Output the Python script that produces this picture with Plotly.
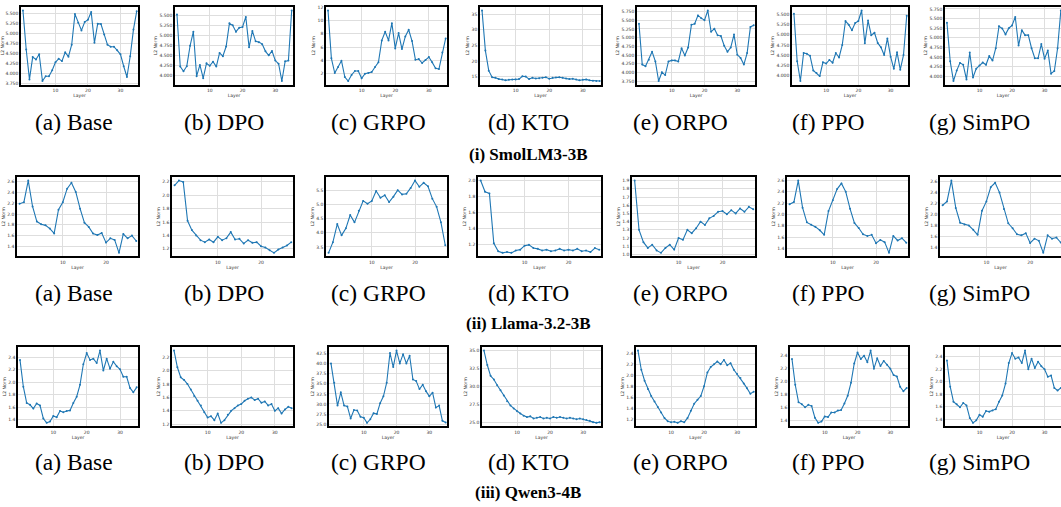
import plotly.graph_objects as go

W, H = 1061, 507

methods = ["(a) Base", "(b) DPO", "(c) GRPO", "(d) KTO", "(e) ORPO", "(f) PPO", "(g) SimPO"]
models = ["(i) SmolLM3-3B", "(ii) Llama-3.2-3B", "(iii) Qwen3-4B"]

# ---- SmolLM3-3B (36 layers) ----
smol_base = [5.58, 4.60, 3.85, 4.41, 4.35, 4.48, 3.81, 3.93, 3.93, 4.08, 4.28, 4.37, 4.31, 4.53, 4.42, 4.72,
             5.49, 5.27, 5.08, 5.29, 5.35, 5.54, 4.77, 5.25, 5.24, 4.98, 4.72, 4.67, 4.67, 4.58, 4.48, 4.18,
             3.91, 4.43, 5.10, 5.56]
smol_dpo = [5.52, 4.22, 4.10, 4.23, 4.74, 5.09, 3.98, 4.26, 3.93, 4.30, 4.24, 4.34, 4.22, 4.56, 4.48, 4.72,
            5.30, 5.25, 5.09, 5.19, 5.21, 5.46, 4.70, 5.11, 4.85, 4.83, 4.78, 4.60, 4.50, 4.61, 4.37, 4.29,
            3.86, 4.35, 4.37, 5.62]
smol_grpo = [11.5, 4.3, 2.1, 3.0, 3.95, 1.5, 0.9, 1.8, 2.4, 2.4, 1.3, 2.0, 2.1, 2.25, 3.0, 3.7,
             7.0, 8.3, 7.0, 9.6, 5.8, 8.1, 5.7, 7.6, 8.6, 6.9, 4.1, 4.2, 3.6, 4.05, 4.5, 3.7,
             2.8, 2.7, 5.2, 7.3]
smol_kto = [36.2, 23.4, 17.0, 14.9, 14.7, 14.3, 14.2, 13.9, 14.1, 14.2, 14.2, 14.3, 15.2, 15.1, 14.3, 14.7,
            14.5, 14.6, 14.7, 14.9, 14.4, 14.7, 14.8, 14.9, 14.7, 14.5, 14.3, 14.4, 14.2, 13.9, 14.1, 14.2,
            13.9, 13.8, 13.7, 13.7]
smol_orpo = [5.40, 4.23, 4.18, 4.37, 4.60, 4.32, 3.76, 4.01, 3.93, 4.32, 4.35, 4.35, 4.32, 4.70, 4.49, 4.72,
             5.37, 5.40, 5.64, 5.56, 5.50, 5.78, 5.17, 5.26, 5.07, 5.05, 4.77, 4.60, 4.72, 5.09, 4.51, 4.42,
             4.23, 4.56, 5.31, 5.36]
smol_ppo = [5.52, 4.35, 3.86, 4.55, 4.53, 4.48, 4.12, 4.06, 3.98, 4.32, 4.29, 4.38, 4.31, 4.55, 4.44, 4.75,
            5.34, 5.25, 5.11, 5.29, 5.34, 5.60, 4.79, 5.35, 4.99, 5.05, 4.80, 4.69, 4.50, 4.91, 4.46, 4.16,
            4.57, 4.14, 4.50, 5.47]
smol_simpo = [5.39, 4.39, 3.88, 4.15, 4.35, 4.30, 3.92, 4.62, 3.97, 4.20, 4.28, 4.36, 4.30, 4.53, 4.41, 4.73,
              5.30, 5.24, 5.09, 5.25, 5.32, 5.54, 4.80, 5.20, 5.07, 5.07, 4.73, 4.47, 4.47, 4.84, 4.46, 4.67,
              4.07, 4.14, 4.73, 5.71]

# ---- Llama-3.2-3B (28 layers) ----
llama_base = [2.19, 2.22, 2.62, 2.14, 1.86, 1.81, 1.79, 1.73, 1.64, 2.08, 2.22, 2.47, 2.58, 2.41, 2.10, 1.84,
              1.76, 1.64, 1.61, 1.65, 1.47, 1.55, 1.52, 1.28, 1.63, 1.55, 1.60, 1.50]
llama_dpo = [2.15, 2.22, 2.20, 1.62, 1.48, 1.40, 1.33, 1.30, 1.34, 1.30, 1.38, 1.33, 1.36, 1.45, 1.34, 1.35,
             1.28, 1.33, 1.29, 1.30, 1.24, 1.22, 1.18, 1.14, 1.19, 1.22, 1.25, 1.30]
llama_grpo = [3.29, 3.67, 4.31, 3.91, 4.16, 4.63, 4.37, 4.78, 5.13, 5.03, 5.13, 5.48, 5.24, 5.33, 5.09, 5.28,
              5.51, 5.36, 5.38, 5.59, 5.85, 5.63, 5.77, 5.65, 5.21, 4.92, 4.37, 3.56]
llama_kto = [2.00, 1.86, 1.84, 1.22, 1.12, 1.10, 1.11, 1.10, 1.13, 1.14, 1.19, 1.20, 1.16, 1.15, 1.13, 1.14,
             1.12, 1.13, 1.15, 1.13, 1.14, 1.13, 1.15, 1.12, 1.13, 1.11, 1.16, 1.14]
llama_orpo = [1.90, 1.30, 1.15, 1.08, 1.12, 1.05, 1.02, 1.08, 1.12, 1.06, 1.20, 1.18, 1.30, 1.26, 1.32, 1.40,
              1.36, 1.44, 1.47, 1.52, 1.53, 1.49, 1.54, 1.50, 1.56, 1.52, 1.58, 1.55]
llama_ppo = [2.18, 2.22, 2.60, 2.12, 1.86, 1.82, 1.78, 1.72, 1.64, 2.06, 2.25, 2.45, 2.55, 2.40, 2.10, 1.85,
             1.76, 1.65, 1.62, 1.64, 1.49, 1.55, 1.51, 1.32, 1.62, 1.54, 1.58, 1.50]
llama_simpo = [2.17, 2.24, 2.62, 2.12, 1.85, 1.82, 1.80, 1.72, 1.63, 2.07, 2.24, 2.50, 2.58, 2.40, 2.10, 1.84,
               1.75, 1.64, 1.62, 1.66, 1.48, 1.56, 1.52, 1.30, 1.62, 1.56, 1.58, 1.49]

# ---- Qwen3-4B (36 layers) ----
qwen_base = [2.36, 1.93, 1.67, 1.64, 1.58, 1.66, 1.63, 1.42, 1.35, 1.37, 1.46, 1.44, 1.54, 1.52, 1.54, 1.55,
             1.67, 1.77, 1.96, 2.29, 2.47, 2.36, 2.38, 2.31, 2.51, 2.19, 2.38, 2.22, 2.33, 2.26, 2.21, 2.09,
             2.09, 1.91, 1.84, 1.92]
qwen_dpo = [2.30, 2.05, 1.90, 1.86, 1.80, 1.72, 1.62, 1.55, 1.48, 1.38, 1.30, 1.32, 1.26, 1.36, 1.22, 1.26,
            1.34, 1.40, 1.44, 1.48, 1.50, 1.55, 1.58, 1.60, 1.56, 1.58, 1.52, 1.54, 1.48, 1.50, 1.40, 1.44,
            1.36, 1.42, 1.46, 1.44]
qwen_grpo = [40.1, 35.3, 29.6, 32.9, 29.6, 29.4, 26.4, 28.5, 28.4, 26.8, 26.6, 25.3, 26.2, 27.7, 27.5, 30.2,
             31.9, 35.3, 42.7, 39.2, 43.3, 40.1, 42.4, 40.1, 42.0, 36.1, 35.7, 33.7, 34.8, 33.2, 31.9, 32.8,
             29.1, 29.6, 25.8, 25.4]
qwen_kto = [35.0, 33.0, 31.5, 31.0, 30.2, 29.5, 28.8, 28.0, 27.4, 27.0, 26.6, 26.3, 26.0, 25.8, 25.9, 25.6,
            25.7, 25.8, 25.6, 25.7, 25.6, 25.8, 25.7, 25.8, 25.7, 25.6, 25.7, 25.6, 25.5, 25.6, 25.5, 25.4,
            25.3, 25.1, 25.0, 25.1]
qwen_orpo = [2.45, 2.10, 1.90, 1.75, 1.62, 1.52, 1.42, 1.32, 1.22, 1.16, 1.14, 1.15, 1.13, 1.16, 1.14, 1.22,
             1.35, 1.48, 1.55, 1.62, 1.80, 2.05, 2.15, 2.20, 2.25, 2.20, 2.28, 2.18, 2.22, 2.10, 2.02, 1.95,
             1.85, 1.76, 1.66, 1.70]
qwen_ppo = [2.35, 1.95, 1.68, 1.65, 1.60, 1.64, 1.62, 1.44, 1.36, 1.38, 1.46, 1.45, 1.52, 1.52, 1.55, 1.56,
            1.66, 1.78, 1.98, 2.28, 2.45, 2.35, 2.40, 2.30, 2.48, 2.20, 2.36, 2.24, 2.32, 2.26, 2.20, 2.10,
            2.08, 1.92, 1.85, 1.90]
qwen_simpo = [2.34, 1.92, 1.68, 1.64, 1.59, 1.66, 1.62, 1.42, 1.34, 1.38, 1.47, 1.44, 1.53, 1.52, 1.54, 1.56,
              1.68, 1.78, 1.97, 2.30, 2.46, 2.37, 2.39, 2.30, 2.50, 2.20, 2.37, 2.22, 2.32, 2.25, 2.20, 2.08,
              2.10, 1.90, 1.86, 1.90]

grid_data = [
    [smol_base, smol_dpo, smol_grpo, smol_kto, smol_orpo, smol_ppo, smol_simpo],
    [llama_base, llama_dpo, llama_grpo, llama_kto, llama_orpo, llama_ppo, llama_simpo],
    [qwen_base, qwen_dpo, qwen_grpo, qwen_kto, qwen_orpo, qwen_ppo, qwen_simpo],
]

# y tick step and label format per panel
tick_steps = [
    [0.25, 0.25, 2, 5, 0.25, 0.25, 0.25],
    [0.2, 0.2, 0.5, 0.2, 0.1, 0.2, 0.2],
    [0.2, 0.2, 2.5, 2.5, 0.2, 0.2, 0.2],
]
tick_fmts = [
    [".3f", ".3f", "d", "d", ".3f", ".3f", ".3f"],
    [".1f", ".1f", ".1f", ".1f", ".1f", ".1f", ".1f"],
    [".1f", ".1f", ".1f", ".1f", ".1f", ".1f", ".1f"],
]
layer_ticks = [[10, 20, 30], [10, 20], [10, 20, 30]]

# plot-area boxes in pixels: (left, right) per panel, (top, bottom) per row
x_boxes = [
    [(21, 138), (175, 293), (326, 447), (480, 601), (637, 755), (792, 908), (945, 1061)],
    [(17, 138), (172, 293), (326, 447), (478, 601), (632, 755), (787, 908), (940, 1061)],
    [(18, 138), (172, 293), (329, 447), (482, 601), (636, 755), (790, 908), (945, 1061)],
]
y_boxes = [(5, 83), (176, 256), (347, 427)]
caption_x = [74, 224, 378, 528, 680, 828, 979]
caption_y = [121, 293, 463]
title_y = [153, 323, 493]

SERIF = "Liberation Serif"

fig = go.Figure()
layout = dict(
    width=W, height=H, margin=dict(l=0, r=0, t=0, b=0),
    paper_bgcolor="white", plot_bgcolor="white", showlegend=False,
    annotations=[],
)

tick_font = dict(family="DejaVu Sans", size=4.5, color="#333333")
axis_font = dict(family="DejaVu Sans", size=4.5, color="#333333")

k = 0
for r in range(3):
    yt, yb = y_boxes[r]
    for c in range(7):
        k += 1
        vals = grid_data[r][c]
        n = len(vals)
        layers = list(range(n))
        xa = "x" if k == 1 else f"x{k}"
        ya = "y" if k == 1 else f"y{k}"
        fig.add_trace(go.Scatter(
            x=layers, y=vals, xaxis=xa, yaxis=ya, mode="lines+markers",
            line=dict(color="#1f77b4", width=1.1),
            marker=dict(color="#1f77b4", size=2),
        ))
        lo, hi = min(vals), max(vals)
        pad = 0.05 * (hi - lo)
        xl, xr = x_boxes[r][c]
        last = c == 6
        xkey = "xaxis" if k == 1 else f"xaxis{k}"
        ykey = "yaxis" if k == 1 else f"yaxis{k}"
        layout[xkey] = dict(
            domain=[xl / W, xr / W], anchor=ya,
            range=[-0.6, n - 1 + (0.05 if last else 0.4)],
            tickmode="array", tickvals=layer_ticks[r],
            showticklabels=True, tickfont=tick_font, ticks="", ticklen=0,
            showgrid=True, gridcolor="#dedede", gridwidth=1, zeroline=False,
            showline=True, linecolor="black", linewidth=1.6, mirror=True,
            title=dict(text="Layer", font=axis_font, standoff=2),
        )
        layout[ykey] = dict(
            domain=[1 - yb / H, 1 - yt / H], anchor=xa,
            range=[lo - pad, hi + pad],
            tickmode="linear", tick0=0, dtick=tick_steps[r][c], tickformat=tick_fmts[r][c],
            tickfont=tick_font, ticks="", ticklen=0,
            showgrid=True, gridcolor="#dedede", gridwidth=1, zeroline=False,
            showline=True, linecolor="black", linewidth=1.6, mirror=not last,
            title=dict(text="L2 Norm", font=axis_font, standoff=2),
        )
        layout["annotations"].append(dict(
            text=methods[c], x=caption_x[c] / W, y=1 - caption_y[r] / H,
            xref="paper", yref="paper", showarrow=False, xanchor="center", yanchor="middle",
            font=dict(family=SERIF, size=23.5, color="black"),
        ))
    layout["annotations"].append(dict(
        text=f"<b>{models[r]}</b>", x=528 / W, y=1 - title_y[r] / H,
        xref="paper", yref="paper", showarrow=False, xanchor="center", yanchor="middle",
        font=dict(family=SERIF, size=17, color="black"),
    ))

fig.update_layout(**layout)
fig.write_html("out.html")
